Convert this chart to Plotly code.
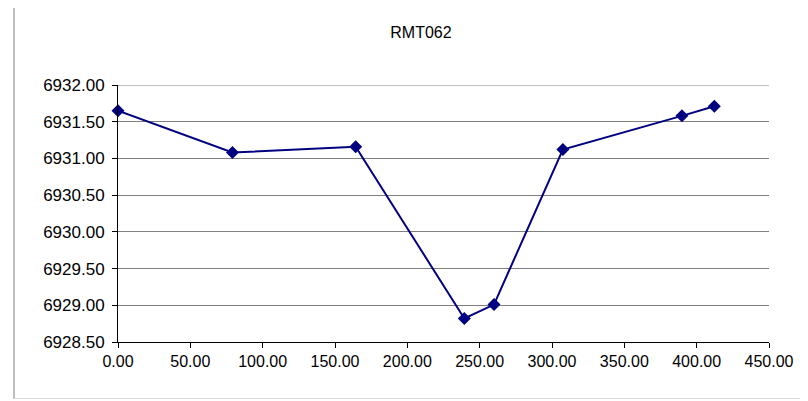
import plotly.graph_objects as go

x_vals = [0.0, 79.1, 164.3, 239.4, 259.9, 307.5, 389.8, 412.2]
y_vals = [6931.65, 6931.08, 6931.16, 6928.82, 6929.01, 6931.12, 6931.58, 6931.71]
title_text = "RMT062"
y_min, y_max, y_step = 6928.5, 6932.0, 0.5

# The page body adds an 8px offset; the figure is sized to fit the window.
OFF = 8
W, H = 808 - OFF, 401 - OFF
L, R, T, B = 118 - OFF, 39, 85 - OFF, 59
pw, ph = W - L - R, H - T - B

def px(xp):
    return (xp - OFF - L) / pw

def py(yp):
    return (H - B - (yp - OFF)) / ph

fig = go.Figure()
fig.add_trace(go.Scatter(
    x=x_vals, y=y_vals, mode="lines+markers",
    line=dict(color="#000080", width=2),
    marker=dict(symbol="diamond", size=10, color="#000080"),
    showlegend=False, cliponaxis=False,
))

fam = "Liberation Sans, Arial, sans-serif"

fig.update_layout(
    width=W, height=H,
    margin=dict(l=L, r=R, t=T, b=B),
    paper_bgcolor="white", plot_bgcolor="white",
    font=dict(family=fam, size=16, color="black"),
    title=dict(text=title_text, x=(421 - OFF) / W, xanchor="center",
               y=1 - (32 - OFF) / H, yanchor="middle",
               font=dict(family=fam, size=16, color="black")),
    xaxis=dict(range=[0, 450], dtick=50, tick0=0, tickformat=".2f",
               showline=True, linecolor="black", linewidth=1,
               ticks="outside", ticklen=5, tickcolor="black",
               tickfont=dict(family=fam, size=16, color="black"),
               showgrid=False, zeroline=False, ticklabelstandoff=0),
    yaxis=dict(range=[y_min, y_max], dtick=y_step, tick0=y_min, tickformat=".2f",
               showline=True, linecolor="black", linewidth=1,
               ticks="outside", ticklen=5, tickcolor="black",
               tickfont=dict(family=fam, size=17, color="black"),
               showgrid=True, gridcolor="#808080", gridwidth=1, zeroline=False,
               ticklabelstandoff=4),
    shapes=[
        # top gridline (plotly omits the one on the plot edge)
        dict(type="line", xref="paper", yref="y", x0=0, x1=1, y0=y_max, y1=y_max,
             line=dict(color="#808080", width=1), layer="below"),
        dict(type="line", xref="paper", yref="paper", x0=px(14), x1=px(14), y0=py(8), y1=py(399),
             line=dict(color="#808080", width=1)),
        dict(type="line", xref="paper", yref="paper", x0=px(14), x1=px(812), y0=py(398.5), y1=py(398.5),
             line=dict(color="#dddddd", width=1)),
    ],
)

fig.write_html("out.html")
